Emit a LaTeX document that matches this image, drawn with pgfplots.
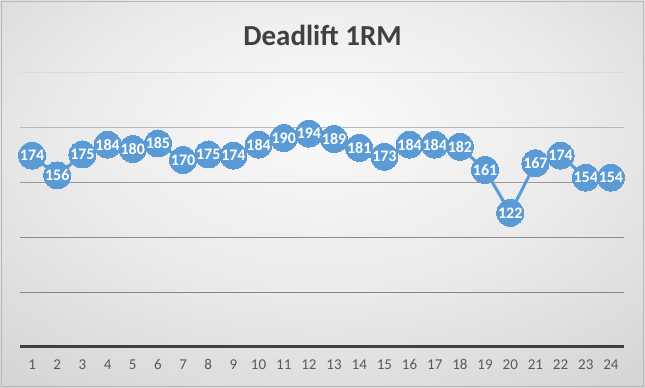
\documentclass[border=0pt]{standalone}
\usepackage{fontspec}
\setmainfont{Carlito}
\usepackage{pgfplots}
\pgfplotsset{compat=1.18}
\definecolor{ptblue}{HTML}{5B9BD5}
\definecolor{axisc}{HTML}{404040}
\definecolor{tickc}{HTML}{595959}
\definecolor{titlec}{HTML}{404040}
\pgfdeclareradialshading{chartbg}{\pgfpoint{0bp}{10bp}}{%
  color(0bp)=(white!98!black);
  color(20bp)=(white!92!black);
  color(52bp)=(white!77!black);
  color(80bp)=(white!70!black)}
\begin{document}
\begin{tikzpicture}
\useasboundingbox (0,0) rectangle (645bp,388bp);
\shade[shading=chartbg] (0,0) rectangle (645bp,388bp);
\draw[white!72!black, line width=0.8bp] (1.5bp,1.5bp) rectangle (643.5bp,386.5bp);
\node[anchor=base, font=\fontsize{29bp}{31bp}\selectfont\bfseries, text=titlec] at (322.5bp,342bp) {Deadlift 1RM};
\begin{axis}[
  at={(19.5bp,41bp)}, anchor=south west,
  scale only axis,
  width=604bp, height=275bp,
  xmin=0.5, xmax=24.5,
  ymin=0, ymax=250,
  axis x line*=bottom,
  axis y line*=left,
  y axis line style={draw=none},
  ytick=\empty,
  x axis line style={axisc, line width=3bp, -},
  xtick={1,...,24},
  major tick length=0pt,
  xticklabel style={font=\fontsize{15bp}{17bp}\selectfont, text=tickc, anchor=base, text depth=0pt, yshift=-23bp},
  /pgf/number format/assume math mode=true,
  clip=false,
]
\draw[white!86!black, line width=0.7bp] (axis cs:0.5,250) -- (axis cs:24.5,250);
\draw[white!72!black, line width=0.7bp] (axis cs:0.5,200) -- (axis cs:24.5,200);
\draw[white!60!black, line width=0.7bp] (axis cs:0.5,150) -- (axis cs:24.5,150);
\draw[white!55!black, line width=0.7bp] (axis cs:0.5,100) -- (axis cs:24.5,100);
\draw[white!52!black, line width=0.7bp] (axis cs:0.5,50) -- (axis cs:24.5,50);
\addplot+[
  ptblue, line width=3bp,
  mark=*, mark size=13.5bp,
  mark options={fill=ptblue, draw=ptblue, line width=0pt},
  nodes near coords,
  nodes near coords align={center},
  every node near coord/.append style={anchor=center, text=white, font=\fontsize{16bp}{18bp}\selectfont\bfseries},
] coordinates {
(1,174) (2,156) (3,175) (4,184) (5,180) (6,185) (7,170) (8,175)
(9,174) (10,184) (11,190) (12,194) (13,189) (14,181) (15,173) (16,184)
(17,184) (18,182) (19,161) (20,122) (21,167) (22,174) (23,154) (24,154)
};
\end{axis}
\end{tikzpicture}
\end{document}
